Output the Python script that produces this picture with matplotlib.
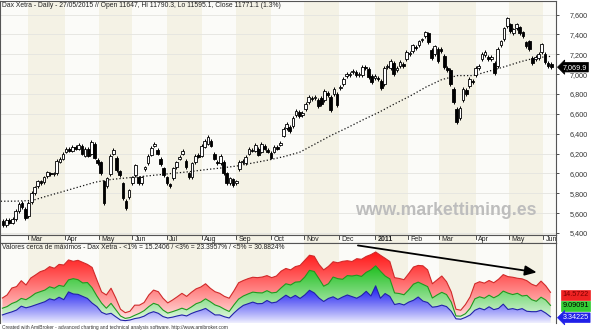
import numpy as np
import pandas as pd
import matplotlib
matplotlib.use("Agg")
import matplotlib.pyplot as plt
import matplotlib.transforms as mtransforms
from matplotlib.colors import to_rgb

plt.rcParams['font.family'] = ['Liberation Sans', 'DejaVu Sans']

# ---------------- data ----------------
calendar_start = '2010-02-03'
calendar_end = '2011-06-10'

# two-day candles (open, close), first candle starts 2010-02-04
bar_open = [5520, 5480, 5530, 5505, 5540, 5620, 5700, 5640, 5570, 5710,
            5800, 5870, 5920, 5910, 5970, 6000, 5990, 6000, 6120, 6150,
            6220, 6245, 6230, 6270, 6250, 6280, 6180, 6250, 6200, 6300,
            6140, 6110, 5920, 5870, 5990, 6200, 6160, 6020, 5900, 5720,
            5760, 5900, 5980, 5960, 5900, 6040, 6100, 6190, 6280, 6240,
            6150, 6050, 5960, 5890, 5950, 6060, 6150, 6200, 6130, 6000,
            5960, 6110, 6190, 6180, 6270, 6300, 6330, 6200, 6120, 6100,
            6120, 6000, 5900, 5940, 5900, 6040, 6110, 6100, 6200, 6240,
            6230, 6250, 6220, 6280, 6240, 6210, 6220, 6270, 6290, 6380,
            6460, 6470, 6480, 6590, 6620, 6590, 6650, 6720, 6760, 6760,
            6740, 6760, 6740, 6810, 6770, 6800, 6800, 6860, 6900, 6980,
            6990, 7020, 7020, 6990, 6990, 7070, 7050, 6980, 6960, 6960,
            6930, 6900, 7070, 7060, 7110, 7040, 7080, 7100, 7150, 7200,
            7230, 7270, 7290, 7340, 7380, 7410, 7240, 7200, 7250, 7250,
            7180, 7060, 7040, 6850, 6650, 6560, 6740, 6840, 6880, 6930,
            6990, 7060, 7150, 7190, 7170, 7150, 7110, 7080, 7290, 7350,
            7480, 7500, 7410, 7460, 7470, 7420, 7320, 7330, 7160, 7150,
            7160, 7220, 7200, 7110, 7100]
bar_close = [5480, 5530, 5505, 5540, 5620, 5690, 5660, 5550, 5700, 5800,
             5860, 5920, 5900, 5960, 6010, 5990, 6000, 6130, 6150, 6200,
             6250, 6230, 6270, 6250, 6290, 6200, 6250, 6180, 6320, 6160,
             6100, 6000, 5700, 5950, 6180, 6240, 6030, 5980, 5750, 5650,
             5830, 5960, 6080, 5900, 5960, 6060, 6180, 6260, 6300, 6200,
             6090, 5980, 5900, 5870, 6050, 6110, 6170, 6230, 6060, 5960,
             6100, 6180, 6170, 6280, 6330, 6370, 6280, 6150, 6100, 6180,
             6000, 5900, 5950, 5880, 5920, 6120, 6130, 6170, 6250, 6230,
             6290, 6190, 6300, 6250, 6220, 6160, 6270, 6250, 6310, 6450,
             6500, 6430, 6560, 6630, 6580, 6610, 6700, 6770, 6750, 6770,
             6680, 6700, 6830, 6790, 6640, 6850, 6690, 6870, 6950, 7000,
             7000, 7030, 6990, 7000, 7070, 7060, 6970, 6920, 6985, 6950,
             6860, 7060, 7080, 7130, 7000, 7060, 7120, 7080, 7220, 7210,
             7290, 7260, 7330, 7350, 7420, 7320, 7160, 7280, 7130, 7230,
             7070, 7040, 6900, 6720, 6520, 6660, 6850, 6800, 6950, 6920,
             7060, 7080, 7200, 7220, 7150, 7170, 7010, 7250, 7330, 7460,
             7560, 7430, 7450, 7500, 7410, 7380, 7280, 7250, 7110, 7170,
             7200, 7300, 7120, 7080, 7070]

# 200-day moving average, one value every 10 sessions from calendar_start
ma200 = [5720, 5721, 5728, 5775, 5820, 5866, 5912, 5939, 5955, 5970,
         5986, 6002, 6018, 6038, 6055, 6075, 6105, 6135, 6170, 6215,
         6300, 6385, 6460, 6540, 6615, 6700, 6780, 6870, 6945, 6985,
         6985, 7030, 7075, 7125, 7165, 7180]

# % of stocks near highs, one value every 3 sessions from 2010-02-04
near_5 = [13.0, 14.5, 17.9, 18.6, 21.5, 19.4, 22.8, 24.3, 25.9, 26.7,
          28.4, 27.6, 29.5, 29.2, 31.7, 31.0, 31.5, 30.5, 29.5, 28.0,
          21.9, 16.0, 14.5, 17.8, 13.0, 7.5, 5.8, 6.5, 9.5, 9.5,
          10.8, 14.5, 16.9, 16.1, 12.9, 10.6, 12.0, 13.6, 15.3, 13.8,
          15.8, 17.5, 18.4, 20.0, 17.8, 16.1, 15.3, 13.8, 12.9, 16.5,
          20.5, 21.6, 22.5, 23.2, 23.0, 23.3, 24.0, 23.0, 23.8, 26.2,
          27.5, 26.8, 28.4, 29.0, 31.5, 34.0, 33.5, 29.5, 26.8, 28.5,
          30.8, 30.3, 31.0, 31.3, 30.9, 32.3, 32.0, 33.4, 34.3, 35.6,
          34.0, 32.5, 30.9, 23.0, 22.6, 22.0, 25.0, 28.2, 29.0, 28.8,
          26.8, 20.0, 21.9, 23.8, 21.0, 16.0, 7.5, 7.0, 9.8, 13.6,
          20.0, 21.0, 20.3, 21.6, 20.5, 22.2, 24.5, 23.5, 23.2, 22.7,
          22.4, 21.5, 19.8, 18.9, 21.3, 19.0, 15.8]
near_3 = [8.0, 8.8, 10.3, 11.2, 12.8, 12.2, 13.6, 15.3, 16.1, 16.9,
          18.5, 17.8, 19.2, 18.7, 21.9, 22.5, 22.0, 20.4, 20.6, 18.0,
          14.0, 10.5, 8.0, 10.4, 7.3, 4.2, 3.0, 3.4, 4.5, 5.5,
          6.8, 8.8, 10.4, 9.6, 7.1, 5.6, 6.3, 7.1, 8.0, 7.2,
          8.6, 10.2, 11.0, 12.6, 11.2, 9.6, 8.8, 7.5, 6.4, 9.6,
          12.5, 14.0, 15.0, 15.9, 15.6, 15.5, 16.6, 15.5, 15.8, 18.0,
          20.0, 19.4, 20.8, 21.0, 23.3, 26.6, 26.0, 22.5, 18.8, 20.0,
          23.3, 22.5, 22.2, 24.0, 23.8, 24.2, 23.6, 25.6, 26.8, 28.8,
          26.2, 23.8, 22.4, 15.5, 15.2, 14.6, 17.0, 19.8, 20.8, 19.7,
          18.6, 13.0, 14.5, 15.8, 14.7, 11.0, 4.2, 4.1, 5.3, 8.0,
          12.6, 13.6, 12.9, 14.4, 13.1, 14.3, 16.4, 15.4, 14.7, 15.3,
          14.0, 14.3, 12.2, 11.4, 13.4, 12.0, 9.4]
near_1 = [4.7, 5.5, 6.2, 7.1, 9.0, 8.2, 8.8, 9.6, 10.4, 11.2,
          12.6, 12.0, 13.4, 12.2, 16.0, 15.0, 14.8, 13.8, 12.8, 10.5,
          8.8, 6.0, 5.0, 5.5, 3.8, 2.2, 1.9, 2.2, 2.9, 3.3,
          4.1, 5.5, 6.3, 5.5, 3.9, 3.2, 3.6, 4.2, 4.7, 4.2,
          5.4, 6.3, 7.0, 7.9, 6.3, 4.7, 4.7, 3.8, 3.2, 5.6,
          7.7, 9.4, 10.2, 11.0, 10.2, 10.3, 11.8, 10.6, 11.0, 12.7,
          14.4, 13.0, 14.3, 12.8, 14.5, 16.8, 15.5, 13.0, 11.3, 12.8,
          13.6, 12.3, 13.5, 14.5, 13.7, 12.9, 14.2, 16.3, 14.0, 19.0,
          12.9, 15.2, 13.8, 9.8, 10.3, 9.6, 11.0, 11.9, 13.5, 11.5,
          10.8, 8.5, 8.8, 9.5, 8.8, 6.5, 2.8, 2.6, 3.5, 4.7,
          7.0, 8.0, 7.2, 8.7, 7.3, 7.9, 10.0, 7.4, 7.8, 7.2,
          7.8, 6.5, 6.3, 6.3, 7.0, 5.6, 3.8]

ind_last = [14.5722, 9.09091, 3.34225]
ind_last_txt = ['14.5722', '9.09091', '3.34225']
last_close = 7069.9
last_close_txt = '7,069.9'
price_ticks = [5400, 5600, 5800, 6000, 6200, 6400, 6600, 6800, 7000, 7200, 7400, 7600]

month_starts = ['2010-03-01', '2010-04-01', '2010-05-01', '2010-06-01', '2010-07-01',
                '2010-08-01', '2010-09-01', '2010-10-01', '2010-11-01', '2010-12-01',
                '2011-01-01', '2011-02-01', '2011-03-01', '2011-04-01', '2011-05-01',
                '2011-06-01']
month_labels = ['Mar', 'Apr', 'May', 'Jun', 'Jul', 'Aug', 'Sep', 'Oct', 'Nov', 'Dec',
                '2011', 'Feb', 'Mar', 'Apr', 'May', 'Jun']

arrow_from = ('2010-12-15', 39.0)
arrow_to = ('2011-05-27', 25.4)

title_txt = ('Dax Xetra - Daily - 27/05/2015 // Open 11647, Hi 11790.3, '
             'Lo 11595.1, Close 11771.1 (1.3%)')
ind_title = ('Valores cerca de máximos - Dax Xetra - <1% = 15.2406 / '
             '<3% = 23.3957% / <5% = 30.8824%')
footer_txt = ('Created with AmiBroker - advanced charting and technical analysis '
              'software. http://www.amibroker.com')
watermark = 'www.markettiming.es'

# ---------------- layout ----------------
W, H = 592, 332
fig = plt.figure(figsize=(W / 100, H / 100), dpi=100)
fig.patch.set_facecolor('white')


def box(x0, y0, x1, y1):
    return [x0 / W, 1 - y1 / H, (x1 - x0) / W, (y1 - y0) / H]


ax = fig.add_axes(box(0, 1, 556, 235))
axs = fig.add_axes(box(0, 235, 556, 243), sharex=ax)
axi = fig.add_axes(box(0, 243, 556, 323), sharex=ax)

days = pd.bdate_range(calendar_start, calendar_end)
n_days = len(days)
xlim = (-0.5, n_days - 0.5)

band_white = '#fbfbf8'
band_beige = '#f4f2e5'
mpos = [days.searchsorted(pd.Timestamp(m)) for m in month_starts]
edges = [-0.5] + [p - 0.5 for p in mpos] + [n_days - 0.5]
for a in (ax, axs, axi):
    a.set_facecolor(band_white)
    for i in range(len(edges) - 1):
        if i % 2 == 1:
            a.axvspan(edges[i], edges[i + 1], color=band_beige, lw=0, zorder=0)

# ---------------- price panel ----------------
o = np.array(bar_open, float)
c = np.array(bar_close, float)
bx = np.arange(len(c)) * 2 + 1.5
up = c >= o
small = np.abs(c - o) < 10
ax.bar(bx, np.where(small, 10, c - o), bottom=np.where(small, o - 5, o), width=1.7,
       color=np.where(up, 'white', 'black'), edgecolor='black', lw=0.6, zorder=3)
lo_ = np.minimum(o, c)
hi_ = np.maximum(o, c)
ax.vlines(bx, lo_ - 18, hi_ + 18, color='black', lw=0.7, zorder=2)

ma_x = np.arange(len(ma200)) * 10
ax.plot(ma_x, ma200, color='#111111', lw=0.9, ls=(0, (1, 1.7)), zorder=2)

for t in price_ticks:
    ax.axhline(t, color='#e4e4e0', lw=0.6, zorder=1)

ax.set_ylim(5380, 7736)
ax.set_xlim(*xlim)
ax.yaxis.tick_right()
ax.set_yticks(price_ticks)
ax.set_yticklabels([f'{t:,}' for t in price_ticks])
ax.tick_params(axis='y', labelsize=5.2, length=2, width=0.6, pad=8,
               colors='#333333', labelcolor='#333333')
ax.tick_params(axis='x', bottom=False, labelbottom=False)
for s in ax.spines.values():
    s.set_color('#555555')
    s.set_linewidth(0.8)

ax.text(0.004, 0.995, title_txt, transform=ax.transAxes, ha='left', va='top',
        fontsize=4.9, color='#222222')
ax.text(0.802, 0.103, watermark, transform=ax.transAxes, ha='center', va='center',
        fontsize=12.7, fontweight='bold', color='#bdbdbd', zorder=1)

trans = mtransforms.blended_transform_factory(ax.transAxes, ax.transData)
ax.text(1.012, last_close, last_close_txt, transform=trans, ha='left', va='center',
        fontsize=5.2, color='white', clip_on=False, zorder=6,
        bbox=dict(boxstyle='larrow,pad=0.18', fc='black', ec='black', lw=0.5))

# ---------------- date strip ----------------
axs.set_ylim(0, 1)
axs.tick_params(left=False, bottom=False, labelleft=False, labelbottom=False,
                right=False, labelright=False)
for s in axs.spines.values():
    s.set_color('#555555')
    s.set_linewidth(0.8)
for p, lab in zip(mpos, month_labels):
    axs.plot([p - 0.5, p - 0.5], [0.55, 1.0], color='#333333', lw=0.6, clip_on=True)
    axs.text(p + 1.0, 0.42, lab, ha='left', va='center', fontsize=5.0,
             color='#222222', fontweight='bold' if lab == '2011' else 'normal',
             clip_on=True)

# ---------------- indicator panel ----------------
ix = np.arange(len(near_5)) * 3 + 1
series = [(near_5, '#ff1414', '#d02a2a', 36.0),
          (near_3, '#1fbf1f', '#1f9a1f', 29.0),
          (near_1, '#1414f0', '#2222a8', 19.0)]
grad = np.linspace(0, 1, 256)
for z, (vals, fillc, linec, vmax) in enumerate(series):
    poly = axi.fill_between(ix, vals, 0, color='none', lw=0)
    path = poly.get_paths()[0]
    rgb = np.array(to_rgb(fillc))
    t = grad ** 0.85
    img = np.ones((256, 1, 4))
    img[:, 0, :3] = 1 - np.outer(t, 1 - rgb)
    im = axi.imshow(img, extent=[xlim[0], xlim[1], 0, vmax], origin='lower',
                    aspect='auto', zorder=2 + z, interpolation='bilinear')
    im.set_clip_path(path, transform=axi.transData)
    axi.plot(ix, vals, color=linec, lw=0.8, zorder=6)

axi.annotate('', xy=(days.searchsorted(pd.Timestamp(arrow_to[0])), arrow_to[1]),
             xytext=(days.searchsorted(pd.Timestamp(arrow_from[0])), arrow_from[1]),
             arrowprops=dict(arrowstyle='-|>,head_length=0.7,head_width=0.3',
                             color='black', lw=1.3), zorder=8)

axi.set_xlim(*xlim)
axi.set_ylim(0.74, 40.0)
axi.tick_params(left=False, bottom=False, labelleft=False, labelbottom=False,
                right=False, labelright=False)
for s in axi.spines.values():
    s.set_color('#555555')
    s.set_linewidth(0.8)
axi.spines['bottom'].set_visible(False)
axi.text(0.004, 0.985, ind_title, transform=axi.transAxes, ha='left', va='top',
         fontsize=4.9, color='#222222', zorder=9)

transi = mtransforms.blended_transform_factory(axi.transAxes, axi.transData)
lab_styles = [('square,pad=0.18', '#ee2222', '#7a0000'),
              ('square,pad=0.18', '#33cc33', '#000000'),
              ('larrow,pad=0.18', '#2020e8', '#ffffff')]
for v, txt, (bs, fc, tc) in zip(ind_last, ind_last_txt, lab_styles):
    axi.text(1.012, v, txt, transform=transi, ha='left', va='center', fontsize=5.2,
             color=tc, clip_on=False, zorder=9,
             bbox=dict(boxstyle=bs, fc=fc, ec=fc, lw=0.5))

fig.text(2 / W, 1 - 327.5 / H, footer_txt, ha='left', va='center', fontsize=3.5,
         color='#333333')

fig.savefig('out.png', dpi=100, facecolor='white')
